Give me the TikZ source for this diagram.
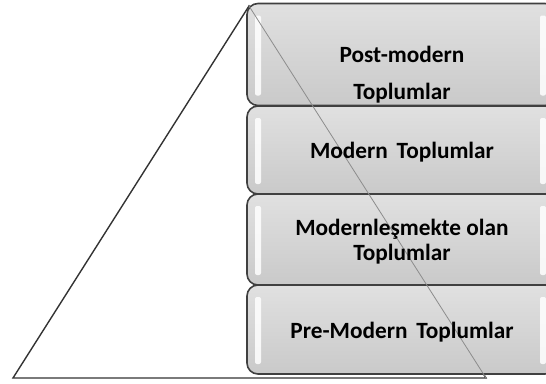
\documentclass[tikz,border=0pt]{standalone}
\usepackage{fontspec}
\setmainfont{Carlito}
\usetikzlibrary{calc}
\begin{document}
\begin{tikzpicture}[x=1pt,y=-1pt,
  tier/.style={draw=black!75, line width=1.6pt, rounded corners=11pt,
    top color=black!12, bottom color=black!21,
    minimum width=309pt, minimum height=#1, inner sep=0pt, outer sep=0pt},
  lbl/.style={font=\fontsize{23.3}{28}\selectfont\bfseries, anchor=base, inner sep=0pt},
  tri/.style={draw=black!80, line width=1.4pt, line join=miter},
  shine/.style={fill=white, opacity=0.85, rounded corners=2pt},
  thinside/.style={draw=black!45, line width=0.8pt}]
\path[use as bounding box] (0,0) rectangle (546,383);
\clip (0,0) rectangle (546,383);
\coordinate (A) at (13,378);
\coordinate (B) at (249,6);
\coordinate (C) at (486,378);
\draw[tri] (A) -- (B) -- (C) -- cycle;
\node[tier=102pt] (b1) at (401.5,54.5) {};
\node[tier=88pt] (b2) at (401.5,150) {};
\node[tier=91pt] (b3) at (401.5,239.5) {};
\node[tier=89pt] (b4) at (401.5,329.5) {};
\foreach \b in {b1,b2,b3,b4}{
  \fill[shine] ($(\b.north west)+(8,12)$) rectangle ($(\b.south west)+(14,-10)$);
  \fill[shine] ($(\b.north east)+(-16,12)$) rectangle ($(\b.south east)+(-10,-10)$);
}
\draw[thinside] (B) -- (C);
\node[lbl] (t1a) at (402,62) {Post-modern};
\node[lbl] (t1b) at (402,99) {Toplumlar};
\node[lbl] (t2) at (402,158) {Modern\hspace{0.15em} Toplumlar};
\node[lbl] (t3a) at (402,235) {Modernleşmekte olan};
\node[lbl] (t3b) at (402,260) {Toplumlar};
\node[lbl] (t4) at (402,338) {Pre-Modern\hspace{0.15em} Toplumlar};
\end{tikzpicture}
\end{document}
